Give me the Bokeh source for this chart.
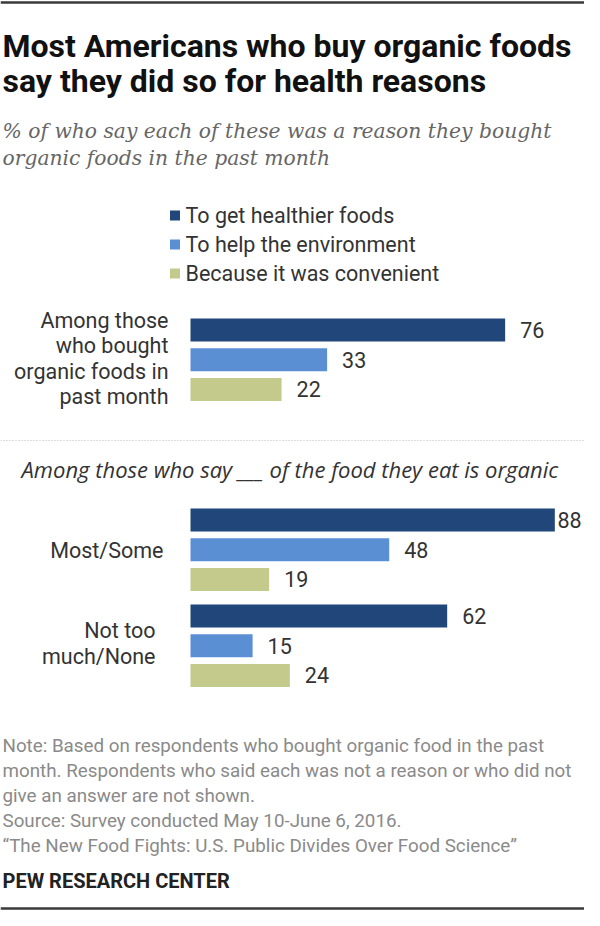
from bokeh.plotting import figure
from bokeh.models import Range1d
from bokeh.core.properties import value
from bokeh.embed import file_html
from bokeh.resources import INLINE

# ---------------- data ----------------
title_lines = ["Most Americans who buy organic foods",
               "say they did so for health reasons"]
subtitle_lines = ["% of who say each of these was a reason they bought",
                  "organic foods in the past month"]
series_names = ["To get healthier foods", "To help the environment",
                "Because it was convenient"]
series_colors = ["#21467a", "#5a8fd4", "#c4ca8c"]
group1_label = ["Among those", "who bought", "organic foods in", "past month"]
group1_values = [76, 33, 22]
section_heading = "Among those who say ___ of the food they eat is organic"
most_some_label = ["Most/Some"]
most_some_values = [88, 48, 19]
not_too_much_label = ["Not too", "much/None"]
not_too_much_values = [62, 15, 24]
notes = [
    "Note: Based on respondents who bought organic food in the past",
    "month. Respondents who said each was not a reason or who did not",
    "give an answer are not shown.",
    "Source: Survey conducted May 10-June 6, 2016.",
    "\u201cThe New Food Fights: U.S. Public Divides Over Food Science\u201d",
]
credit = "PEW RESEARCH CENTER"

# ---------------- layout ----------------
W, H = 584, 910
X0 = 190.0     # pixel where value 0 sits
K = 4.14       # pixels per percentage point
FONT = "Roboto"
LBL = 21.5

def px(xp):
    return (xp - X0) / K

p = figure(width=W, height=H, output_backend="svg", toolbar_location=None,
           x_range=Range1d(px(0), px(W)), y_range=Range1d(H, 0),
           x_axis_location=None, y_axis_location=None,
           min_border=0, min_border_left=0, min_border_right=0,
           min_border_top=0, min_border_bottom=0)
p.xgrid.visible = False
p.ygrid.visible = False
p.outline_line_color = None
p.background_fill_color = "white"
p.border_fill_color = "white"

def text(xp, y, lines, size, color="#333333", align="left", style="normal",
         font=FONT, spacing=25.0):
    xs = [px(xp)] * len(lines)
    ys = [y + i * spacing for i in range(len(lines))]
    p.text(x=xs, y=ys, text=lines, text_font=value(font),
           text_font_size=value(f"{size}px"), text_color=color,
           text_align=align, text_baseline="middle", text_font_style=style)

# rules
p.line(x=[px(0), px(W)], y=[2, 2], line_color="#3a3a3a", line_width=2.5)
p.line(x=[px(0), px(W)], y=[908, 908], line_color="#3a3a3a", line_width=2.5)

# title / subtitle
text(2, 45, title_lines, 32, color="#111111", style="bold", spacing=35)
text(2, 130, subtitle_lines, 20.3, color="#666666", style="italic",
     font="DejaVu Serif", spacing=27)

# legend
leg_y = [215, 244, 273]
p.rect(x=[px(174.5)] * 3, y=leg_y, width=10, height=10,
       width_units="screen", height_units="screen",
       fill_color=series_colors, line_color=None)
for yy, name in zip(leg_y, series_names):
    text(185, yy, [name], LBL, color="#333333")

BAR_H = 23
PITCH = 29.7

def group(top_center, vals):
    ys = [top_center + i * PITCH for i in range(len(vals))]
    p.hbar(y=ys, left=0, right=vals, height=BAR_H, fill_color=series_colors,
           line_color=None)
    for yy, v in zip(ys, vals):
        end = X0 + v * K
        lx = min(end + 15, max(end + 2, W - 27))
        text(lx, yy, [str(v)], LBL, color="#333333")
    return ys

group(329.5, group1_values)
text(168, 320, group1_label, LBL, align="right", spacing=25.3)

# separator
p.line(x=[px(0), px(W)], y=[440, 440], line_color="#bbbbbb", line_width=1,
       line_dash="1 2")
text(21, 468, [section_heading], 22, color="#333333", style="italic",
     font="Open Sans")

group(519.5, most_some_values)
text(163, 550, most_some_label, LBL, align="right")
group(615.5, not_too_much_values)
text(155, 630, not_too_much_label, LBL, align="right", spacing=26)

# notes
text(2, 745, notes, 18.8, color="#8a8a8a", spacing=25)
text(2, 880, [credit], 20, color="#222222", style="bold")

open("out.html", "w").write(file_html(p, INLINE))
